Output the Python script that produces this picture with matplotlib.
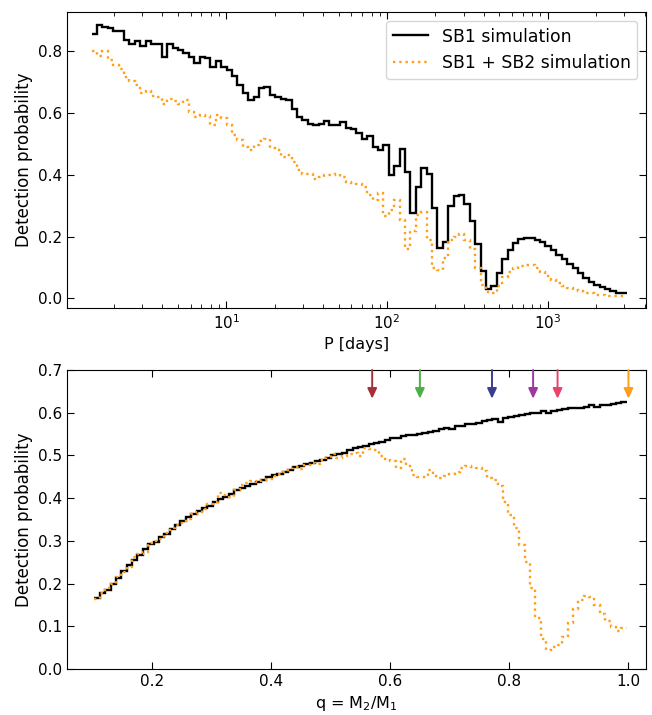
#!/usr/bin/env python3
"""Detection probability vs period (top) and vs mass ratio (bottom)."""
import matplotlib

matplotlib.use("Agg")

import matplotlib.pyplot as plt
import numpy as np

# top panel: 99 log-spaced period bins
p_log_lo, p_log_hi, n_p_bins = 0.161, 3.49, 99
sb1_vs_p = [
    0.855, 0.885, 0.879, 0.874, 0.866, 0.866, 0.838, 0.822, 0.834, 0.817,
    0.834, 0.825, 0.822, 0.782, 0.825, 0.809, 0.804, 0.795, 0.782, 0.761,
    0.782, 0.777, 0.748, 0.769, 0.750, 0.739, 0.720, 0.690, 0.666, 0.642,
    0.651, 0.680, 0.685, 0.658, 0.651, 0.647, 0.642, 0.612, 0.586, 0.579,
    0.566, 0.561, 0.563, 0.575, 0.561, 0.561, 0.572, 0.553, 0.547, 0.536,
    0.515, 0.527, 0.490, 0.479, 0.497, 0.400, 0.430, 0.484, 0.409, 0.276,
    0.360, 0.421, 0.403, 0.292, 0.162, 0.181, 0.300, 0.330, 0.335, 0.307,
    0.251, 0.175, 0.088, 0.032, 0.040, 0.081, 0.128, 0.158, 0.179, 0.191,
    0.194, 0.194, 0.189, 0.181, 0.170, 0.156, 0.140, 0.126, 0.111, 0.097,
    0.081, 0.067, 0.054, 0.045, 0.038, 0.030, 0.024, 0.018, 0.016,
]
sb12_vs_p = [
    0.800, 0.785, 0.800, 0.773, 0.755, 0.744, 0.717, 0.704, 0.690, 0.666,
    0.672, 0.655, 0.651, 0.628, 0.647, 0.640, 0.629, 0.642, 0.604, 0.586,
    0.593, 0.590, 0.561, 0.593, 0.585, 0.561, 0.530, 0.512, 0.491, 0.482,
    0.496, 0.508, 0.515, 0.488, 0.480, 0.458, 0.464, 0.440, 0.415, 0.403,
    0.402, 0.388, 0.394, 0.398, 0.399, 0.404, 0.394, 0.378, 0.374, 0.370,
    0.362, 0.334, 0.320, 0.342, 0.267, 0.287, 0.318, 0.253, 0.160, 0.218,
    0.270, 0.280, 0.190, 0.100, 0.092, 0.130, 0.188, 0.200, 0.208, 0.190,
    0.160, 0.100, 0.045, 0.020, 0.018, 0.040, 0.068, 0.086, 0.100, 0.105,
    0.108, 0.108, 0.097, 0.085, 0.072, 0.061, 0.050, 0.041, 0.033, 0.027,
    0.024, 0.019, 0.016, 0.012, 0.010, 0.009, 0.008, 0.008, 0.008,
]

# bottom panel: 99 linear mass-ratio bins
q_lo, q_hi, n_q_bins = 0.104, 0.997, 99
sb1_vs_q = [
    0.166, 0.178, 0.186, 0.200, 0.214, 0.230, 0.243, 0.256, 0.268, 0.281,
    0.292, 0.298, 0.308, 0.316, 0.327, 0.336, 0.346, 0.355, 0.364, 0.370,
    0.377, 0.382, 0.392, 0.397, 0.403, 0.410, 0.419, 0.424, 0.429, 0.434,
    0.437, 0.442, 0.449, 0.454, 0.456, 0.461, 0.465, 0.472, 0.476, 0.479,
    0.482, 0.487, 0.490, 0.495, 0.500, 0.503, 0.506, 0.512, 0.518, 0.520,
    0.523, 0.527, 0.528, 0.532, 0.535, 0.541, 0.542, 0.546, 0.547, 0.548,
    0.550, 0.552, 0.555, 0.557, 0.562, 0.565, 0.562, 0.568, 0.570, 0.573,
    0.574, 0.575, 0.580, 0.583, 0.586, 0.579, 0.588, 0.590, 0.592, 0.595,
    0.598, 0.600, 0.600, 0.603, 0.600, 0.605, 0.606, 0.608, 0.610, 0.612,
    0.612, 0.613, 0.617, 0.613, 0.618, 0.619, 0.621, 0.623, 0.624,
]
sb12_vs_q = [
    0.165, 0.178, 0.190, 0.198, 0.215, 0.228, 0.240, 0.262, 0.270, 0.275,
    0.296, 0.300, 0.305, 0.318, 0.330, 0.338, 0.343, 0.352, 0.362, 0.368,
    0.374, 0.386, 0.392, 0.412, 0.408, 0.402, 0.418, 0.430, 0.436, 0.440,
    0.437, 0.443, 0.446, 0.452, 0.456, 0.462, 0.470, 0.474, 0.468, 0.478,
    0.483, 0.480, 0.489, 0.496, 0.503, 0.493, 0.498, 0.503, 0.506, 0.498,
    0.518, 0.515, 0.513, 0.498, 0.492, 0.487, 0.471, 0.491, 0.475, 0.455,
    0.450, 0.450, 0.467, 0.451, 0.448, 0.452, 0.457, 0.462, 0.471, 0.476,
    0.474, 0.470, 0.463, 0.448, 0.442, 0.428, 0.390, 0.360, 0.330, 0.290,
    0.250, 0.190, 0.120, 0.070, 0.045, 0.051, 0.056, 0.076, 0.107, 0.140,
    0.162, 0.172, 0.168, 0.150, 0.128, 0.112, 0.099, 0.088, 0.095,
]

# marked mass ratios (arrows at the top of the lower panel)
arrow_q = [0.570, 0.650, 0.771, 0.840, 0.881, 1.000]
arrow_colors = ["#A3303A", "#4DAF4A", "#3D3D8F", "#9E379F", "#E8436A", "#FF9E1B"]

ORANGE = "#FF9E1B"


def style_axis(ax):
    ax.tick_params(which="both", direction="in", top=True, right=True,
                   labelsize=11)
    ax.tick_params(which="major", length=5)
    ax.tick_params(which="minor", length=3)


fig = plt.figure(figsize=(6.52, 7.15), dpi=100)
ax1 = fig.add_axes([0.1032, 0.5688, 0.8876, 0.4144])
ax2 = fig.add_axes([0.1032, 0.0643, 0.8876, 0.4182])

p_edges = np.logspace(p_log_lo, p_log_hi, n_p_bins + 1)
ax1.stairs(sb1_vs_p, p_edges, baseline=None, color="k", lw=1.7,
           label="SB1 simulation")
ax1.stairs(sb12_vs_p, p_edges, baseline=None, color=ORANGE, lw=1.7,
           linestyle=":", label="SB1 + SB2 simulation")
ax1.set_xscale("log")
ax1.set_xlim(10 ** 0.01, 10 ** 3.611)
ax1.set_ylim(-0.032, 0.927)
ax1.set_yticks([0.0, 0.2, 0.4, 0.6, 0.8])
ax1.set_xlabel("P [days]", fontsize=11.5)
ax1.set_ylabel("Detection probability", fontsize=12)
ax1.legend(loc="upper right", fontsize=12.4)
style_axis(ax1)

q_edges = np.linspace(q_lo, q_hi, n_q_bins + 1)
ax2.stairs(sb1_vs_q, q_edges, baseline=None, color="k", lw=1.7)
ax2.stairs(sb12_vs_q, q_edges, baseline=None, color=ORANGE, lw=1.7,
           linestyle=":")
for q, c in zip(arrow_q, arrow_colors):
    ax2.annotate("", xy=(q, 0.633), xytext=(q, 0.70),
                 arrowprops=dict(arrowstyle="-|>,head_length=0.6,head_width=0.28",
                                 color=c, lw=1.4, mutation_scale=10,
                                 shrinkA=0, shrinkB=0))
ax2.set_xlim(0.0584, 1.0294)
ax2.set_ylim(0.0, 0.7)
ax2.set_xticks([0.2, 0.4, 0.6, 0.8, 1.0])
ax2.set_yticks(np.arange(0, 0.71, 0.1))
ax2.set_xlabel(r"q = M$_2$/M$_1$", fontsize=11.5)
ax2.set_ylabel("Detection probability", fontsize=12)
style_axis(ax2)

fig.savefig("out.png", dpi=100)
plt.close(fig)
